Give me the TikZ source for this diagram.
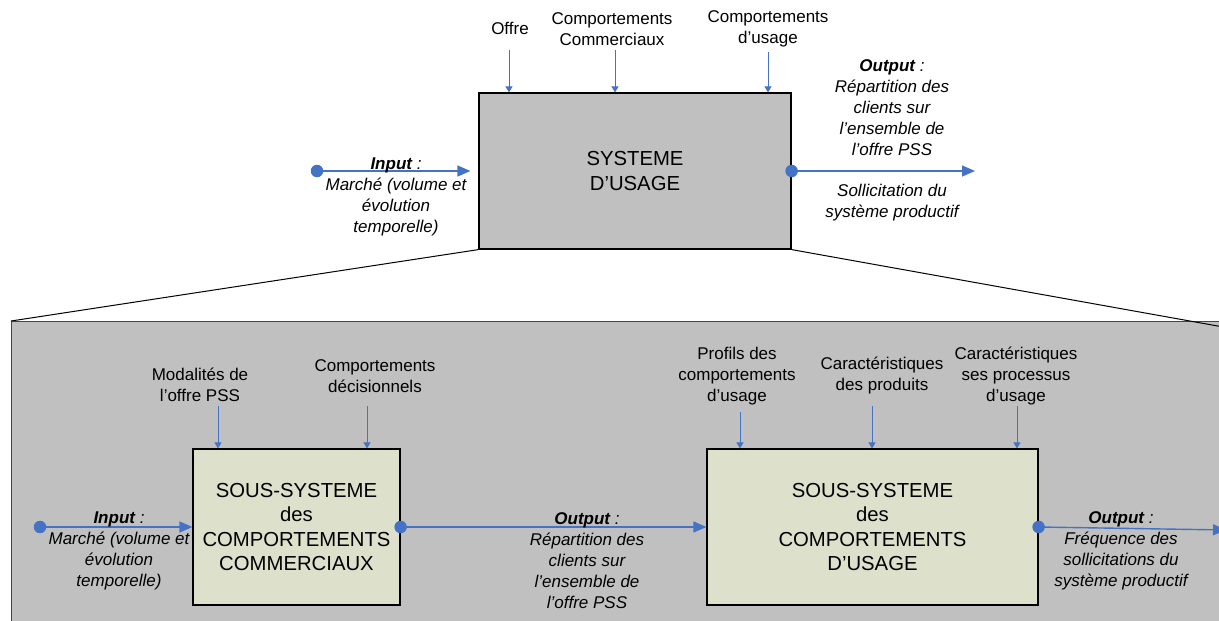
\documentclass[tikz,border=0pt]{standalone}
\usepackage{fontspec}
\setmainfont{Liberation Sans}
\usetikzlibrary{arrows.meta, positioning}
\definecolor{boxgray}{RGB}{192, 192, 192}
\definecolor{subgreen}{RGB}{221, 225, 204}
\definecolor{flowblue}{RGB}{68, 114, 196}
\definecolor{edgegray}{RGB}{70, 70, 70}
\newcommand{\txtsmall}{\fontsize{17}{21}\selectfont}
\newcommand{\txtbig}{\fontsize{20.3}{24.5}\selectfont}
\tikzset{
    bigarrow/.style={draw=flowblue, line width=1.4pt, -{Triangle[length=13pt, width=11pt]}},
    smallarrow/.style={draw=flowblue, line width=1pt, -{Triangle[length=6pt, width=7pt]}},
    enddot/.style={circle, fill=flowblue, inner sep=0pt, minimum size=12.5pt},
    sysbox/.style={draw=black, line width=1.2pt, fill=boxgray, align=center, font=\txtbig},
    subbox/.style={draw=black, line width=1.2pt, fill=subgreen, align=center, font=\txtbig},
    txt/.style={align=center, inner sep=0pt, font=\txtsmall}
}

\begin{document}
\begin{tikzpicture}[x=1pt, y=-1pt]
    \useasboundingbox (0,0) rectangle (1219,621);

    % Fond gris du zoom (déborde à droite et en bas)
    \coordinate (panelNW) at (11,321);
    \coordinate (zoomR) at (1240,330);
    \draw[fill=boxgray, draw=edgegray, line width=1pt] (panelNW) rectangle (1260,660);

    % Boîte principale "SYSTEME D'USAGE"
    \node[sysbox, minimum width=312pt, minimum height=156pt] (sys) at (635,171) {SYSTEME\\D’USAGE};

    % Lignes de zoom vers le panneau
    \draw[line width=1pt] (sys.south west) -- (panelNW);
    \draw[line width=1pt] (sys.south east) -- (zoomR);

    % Entrées du haut
    \node[txt] (offre) at (510,28) {Offre};
    \coordinate (offreIn) at (509,50);
    \draw[smallarrow] (offreIn) -- (offreIn |- sys.north);

    \node[txt] (commerc) at (612,29) {Comportements\\Commerciaux};
    \coordinate (commercIn) at (615,50);
    \draw[smallarrow] (commercIn) -- (commercIn |- sys.north);

    \node[txt] (usageTop) at (768,29) {Comportements\\d’usage};
    \coordinate (usageTopIn) at (768,52);
    \draw[smallarrow] (usageTopIn) -- (usageTopIn |- sys.north);

    % Input du système
    \node[enddot] (inDot) at (317,171) {};
    \draw[bigarrow, shorten >=8pt] (inDot.center) -- (sys.west);
    \node[txt, font=\txtsmall\itshape] (inTxt) at (396,197) {\textbf{Input} :\\Marché (volume et\\évolution\\temporelle)};

    % Output du système
    \node[enddot] (outDot) at (sys.east) {};
    \coordinate (outEnd) at (975,171);
    \draw[bigarrow] (outDot.center) -- (outEnd);
    \node[txt, font=\txtsmall\itshape] (outTxt) at (892,108) {\textbf{Output} :\\Répartition des\\clients sur\\l’ensemble de\\l’offre PSS};
    \node[txt, font=\txtsmall\itshape] (sollic) at (892,203) {Sollicitation du\\système productif};

    % Sous-système des comportements commerciaux
    \node[subbox, minimum width=207pt, minimum height=156pt] (com) at (296.5,527) {SOUS-SYSTEME\\des\\COMPORTEMENTS\\COMMERCIAUX};

    \node[txt] (modal) at (200,385) {Modalités de\\l’offre PSS};
    \coordinate (modalIn) at (218,406);
    \draw[smallarrow] (modalIn) -- (modalIn |- com.north);

    \node[txt] (decis) at (375,376) {Comportements\\décisionnels};
    \coordinate (decisIn) at (367,406);
    \draw[smallarrow] (decisIn) -- (decisIn |- com.north);

    \node[enddot] (inDot2) at (40,527) {};
    \draw[bigarrow] (inDot2.center) -- (com.west);
    \node[txt, font=\txtsmall\itshape] (inTxt2) at (119,551) {\textbf{Input} :\\Marché (volume et\\évolution\\temporelle)};

    % Sous-système des comportements d'usage
    \node[subbox, minimum width=331pt, minimum height=156pt] (usage) at (872.5,527) {SOUS-SYSTEME\\des\\COMPORTEMENTS\\D’USAGE};

    \node[enddot] (midDot) at (com.east) {};
    \draw[bigarrow] (midDot.center) -- (usage.west);
    \node[txt, font=\txtsmall\itshape] (midTxt) at (587,561) {\textbf{Output} :\\Répartition des\\clients sur\\l’ensemble de\\l’offre PSS};

    \node[txt] (profils) at (737,376) {Profils des\\comportements\\d’usage};
    \coordinate (profilsIn) at (740,412);
    \draw[smallarrow] (profilsIn) -- (profilsIn |- usage.north);

    \node[txt] (caracProd) at (882,376) {Caractéristiques\\des produits};
    \coordinate (caracProdIn) at (872,406);
    \draw[smallarrow] (caracProdIn) -- (caracProdIn |- usage.north);

    \node[txt] (caracProc) at (1016,376) {Caractéristiques\\ses processus\\d’usage};
    \coordinate (caracProcIn) at (1017,406);
    \draw[smallarrow] (caracProcIn) -- (caracProcIn |- usage.north);

    % Output final
    \node[enddot] (outDot2) at (usage.east) {};
    \coordinate (outEnd2) at (1226,530);
    \draw[bigarrow] (outDot2.center) -- (outEnd2);
    \node[txt, font=\txtsmall\itshape] (freq) at (1121,551) {\textbf{Output} :\\Fréquence des\\sollicitations du\\système productif};
\end{tikzpicture}
\end{document}
